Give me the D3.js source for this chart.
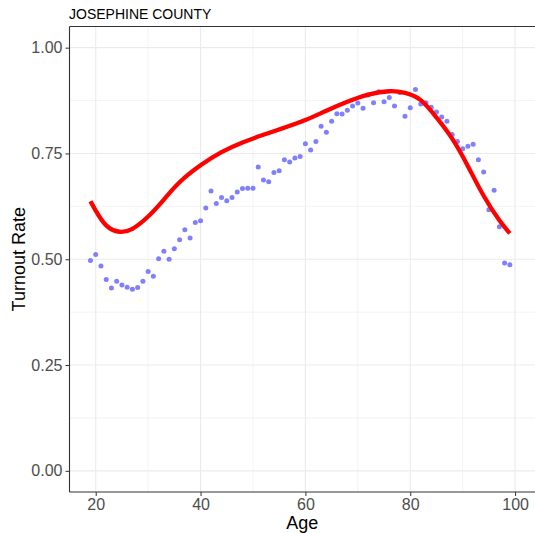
<!DOCTYPE html>
<html>
<head>
<meta charset="utf-8">
<script src="https://cdn.jsdelivr.net/npm/d3@7"></script>
<style>
    body { margin: 0; background: #fff; }
    svg { display: block; font-family: "Liberation Sans", Arial, sans-serif; }
</style>
</head>
<body>
<div id="chart"></div>
<script>

// observed turnout rate by age
var ages = [19,20,21,22,23,24,25,26,27,28,29,30,31,32,33,34,35,36,37,38,39,40,41,42,43,44,45,46,47,48,49,50,
    51,52,53,54,55,56,57,58,59,60,61,62,63,64,65,66,67,68,69,70,71,72,73,74,75,76,77,78,79,80,
    81,82,83,84,85,86,87,88,89,90,91,92,93,94,95,96,97,98,99];
var turnout = [0.497,0.511,0.484,0.452,0.432,0.448,0.439,0.434,0.429,0.433,0.448,0.471,0.460,0.501,0.519,0.500,0.525,
    0.546,0.570,0.550,0.587,0.591,0.621,0.661,0.632,0.646,0.638,0.646,0.659,0.667,0.668,0.668,
    0.718,0.687,0.683,0.705,0.709,0.735,0.730,0.739,0.743,0.773,0.758,0.778,0.814,0.800,0.826,0.844,0.843,0.852,0.862,0.869,
    0.857,0.888,0.870,0.896,0.872,0.882,0.862,0.894,0.838,0.858,0.901,0.867,0.870,0.859,0.848,0.836,0.826,0.795,0.778,0.761,
    0.767,0.772,0.735,0.706,0.617,0.663,0.577,0.491,0.487];

// fitted smooth curve
var fitAges = [19,20,22,24.5,27,30,33,36,40,44,48,52,56,60,64,68,72,76,79,82,85,88,91,94,97,99];
var fitRates = [0.637,0.615,0.580,0.565,0.572,0.601,0.641,0.682,0.722,0.753,0.776,0.794,0.811,0.829,0.851,0.872,
    0.889,0.897,0.893,0.876,0.835,0.785,0.720,0.650,0.592,0.561];

var xTicks = [20,40,60,80,100];
var xMinor = [30,50,70,90];
var yTicks = [0,0.25,0.5,0.75,1];
var yMinor = [0.125,0.375,0.625,0.875];

var width = 535, height = 533;
var panel = {left: 69.5, right: 535, top: 26.5, bottom: 492};

var svg = d3.select("#chart").append("svg")
    .attr("width", width)
    .attr("height", height);

var x = d3.scaleLinear().domain([15, 103.8]).range([panel.left, panel.right]);
var y = d3.scaleLinear().domain([-0.05, 1.05]).range([panel.bottom, panel.top]);

//grid lines
var grid = svg.append("g");
grid.selectAll(".xminor").data(xMinor).enter().append("line")
    .attr("x1", function(d){ return x(d); }).attr("x2", function(d){ return x(d); })
    .attr("y1", panel.top).attr("y2", panel.bottom)
    .attr("stroke", "#ebebeb").attr("stroke-width", 0.6);
grid.selectAll(".yminor").data(yMinor).enter().append("line")
    .attr("y1", function(d){ return y(d); }).attr("y2", function(d){ return y(d); })
    .attr("x1", panel.left).attr("x2", panel.right)
    .attr("stroke", "#ebebeb").attr("stroke-width", 0.6);
grid.selectAll(".xmajor").data(xTicks).enter().append("line")
    .attr("x1", function(d){ return x(d); }).attr("x2", function(d){ return x(d); })
    .attr("y1", panel.top).attr("y2", panel.bottom)
    .attr("stroke", "#ebebeb").attr("stroke-width", 1.1);
grid.selectAll(".ymajor").data(yTicks).enter().append("line")
    .attr("y1", function(d){ return y(d); }).attr("y2", function(d){ return y(d); })
    .attr("x1", panel.left).attr("x2", panel.right)
    .attr("stroke", "#ebebeb").attr("stroke-width", 1.1);

//points
svg.append("g").selectAll("circle")
    .data(ages)
    .enter().append("circle")
    .attr("cx", function(d){ return x(d); })
    .attr("cy", function(d, i){ return y(turnout[i]); })
    .attr("r", 2.5)
    .attr("fill", "#8080ff");

//smooth line
var line = d3.line()
    .x(function(d){ return x(d); })
    .y(function(d, i){ return y(fitRates[i]); })
    .curve(d3.curveNatural);

svg.append("path")
    .datum(fitAges)
    .attr("d", line)
    .attr("fill", "none")
    .attr("stroke", "#ff0000")
    .attr("stroke-width", 4.3)
    .attr("stroke-linecap", "butt");

//axes
var xAxis = d3.axisBottom(x).tickValues(xTicks).tickSize(4).tickPadding(3).tickFormat(d3.format("d"));
var yAxis = d3.axisLeft(y).tickValues(yTicks).tickSize(4).tickPadding(3).tickFormat(d3.format(".2f"));

var gx = svg.append("g").attr("transform", "translate(0," + panel.bottom + ")").call(xAxis);
var gy = svg.append("g").attr("transform", "translate(" + panel.left + ",0)").call(yAxis);

[gx, gy].forEach(function(g){
    g.select(".domain").remove();
    g.selectAll("line").attr("stroke", "#333");
    g.selectAll("text").attr("fill", "#4d4d4d").style("font-size", "16px");
});

//axis lines and top border
svg.append("line").attr("x1", panel.left).attr("x2", panel.left)
    .attr("y1", panel.top).attr("y2", panel.bottom).attr("stroke", "#333").attr("stroke-width", 1.1);
svg.append("line").attr("x1", panel.left).attr("x2", panel.right)
    .attr("y1", panel.bottom).attr("y2", panel.bottom).attr("stroke", "#333").attr("stroke-width", 1.1);
svg.append("line").attr("x1", panel.left).attr("x2", panel.right)
    .attr("y1", panel.top).attr("y2", panel.top).attr("stroke", "#333").attr("stroke-width", 1.1);

//titles
svg.append("text")
    .attr("x", 69).attr("y", 18.5)
    .style("font-size", "14px").attr("fill", "#000")
    .text("JOSEPHINE COUNTY");

svg.append("text")
    .attr("x", (panel.left + panel.right) / 2).attr("y", 529)
    .attr("text-anchor", "middle")
    .style("font-size", "18px").attr("fill", "#000")
    .text("Age");

svg.append("text")
    .attr("transform", "translate(25," + (panel.top + panel.bottom) / 2 + ") rotate(-90)")
    .attr("text-anchor", "middle")
    .style("font-size", "18px").attr("fill", "#000")
    .text("Turnout Rate");

</script>
</body>
</html>
